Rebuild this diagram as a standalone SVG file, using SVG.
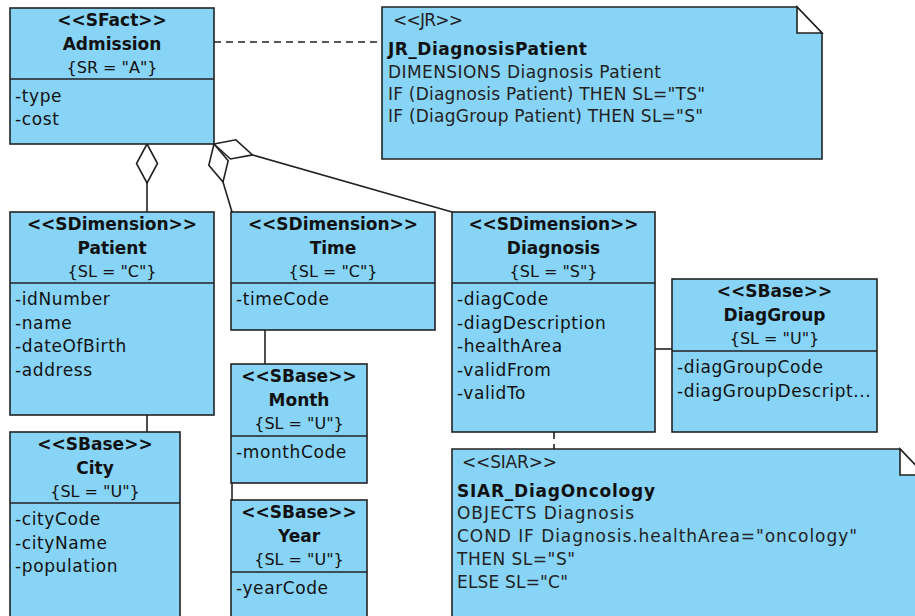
<svg xmlns="http://www.w3.org/2000/svg" width="915" height="616" viewBox="0 0 915 616">
<style>
.box{fill:#88d4f6;stroke:#222;stroke-width:1.6}
.div{stroke:#222;stroke-width:1.6}
.fold{fill:#fff;stroke:#222;stroke-width:1.6}
.st{font-family:"DejaVu Sans",sans-serif;font-size:17px;font-weight:bold;fill:#111;text-anchor:middle}
.nm{font-family:"DejaVu Sans",sans-serif;font-size:17px;font-weight:bold;fill:#111;text-anchor:middle}
.cn{font-family:"DejaVu Sans",sans-serif;font-size:16px;fill:#111;text-anchor:middle}
.at{font-family:"DejaVu Sans",sans-serif;font-size:17px;letter-spacing:0.6px;fill:#111}
.nt{font-family:"DejaVu Sans",sans-serif;font-size:17px;fill:#222}
.nb{font-family:"DejaVu Sans",sans-serif;font-size:17px;font-weight:bold;fill:#111}
.ln{fill:none;stroke:#222;stroke-width:1.6}
.dash{fill:none;stroke:#222;stroke-width:1.6;stroke-dasharray:7,5}
.dia{fill:#fff;stroke:#222;stroke-width:1.6}
</style>
<g id="connectors">
<line class="dash" x1="214" y1="42" x2="382" y2="42"/>
<line class="ln" x1="147" y1="183" x2="147" y2="212"/>
<polygon class="dia" points="147,144 157.5,163.5 147,183 136.5,163.5"/>
<line class="ln" x1="223" y1="182" x2="232" y2="212"/>
<polygon class="dia" points="214,144 228.2,160.7 223,182 208.8,165.3"/>
<line class="ln" x1="252.5" y1="154.9" x2="452" y2="212"/>
<polygon class="dia" points="214,144 235.9,139.8 252.5,154.9 230.5,159"/>
<line class="ln" x1="265" y1="330" x2="265" y2="364"/>
<line class="ln" x1="232" y1="483" x2="232" y2="500"/>
<line class="ln" x1="147" y1="415" x2="147" y2="432"/>
<line class="ln" x1="655" y1="349" x2="672" y2="349"/>
<line class="dash" x1="554" y1="432" x2="554" y2="449"/>
</g>
<g id="Admission">
<rect class="box" x="10" y="8" width="204" height="136"/>
<line class="div" x1="10" y1="79" x2="214" y2="79"/>
<text class="st" x="112" y="26">&lt;&lt;SFact&gt;&gt;</text>
<text class="nm" x="112" y="50">Admission</text>
<text class="cn" x="112" y="73">{SR = "A"}</text>
<text class="at" x="15" y="102">-type</text>
<text class="at" x="15" y="125">-cost</text>
</g>
<g id="JR_DiagnosisPatient">
<polygon class="box" points="382,7 797,7 822,33 822,159 382,159"/>
<polygon class="fold" points="797,7 797,33 822,33"/>
<text class="nt" x="393" y="26" textLength="70" lengthAdjust="spacing">&lt;&lt;JR&gt;&gt;</text>
<text class="nb" x="388" y="55" textLength="199" lengthAdjust="spacing">JR_DiagnosisPatient</text>
<text class="nt" x="388" y="78" textLength="273" lengthAdjust="spacing">DIMENSIONS Diagnosis Patient</text>
<text class="nt" x="388" y="100" textLength="317" lengthAdjust="spacing">IF (Diagnosis Patient) THEN SL="TS"</text>
<text class="nt" x="388" y="122" textLength="315" lengthAdjust="spacing">IF (DiagGroup Patient) THEN SL="S"</text>
</g>
<g id="Patient">
<rect class="box" x="10" y="212" width="204" height="203"/>
<line class="div" x1="10" y1="283" x2="214" y2="283"/>
<text class="st" x="112" y="230">&lt;&lt;SDimension&gt;&gt;</text>
<text class="nm" x="112" y="254">Patient</text>
<text class="cn" x="112" y="277">{SL = "C"}</text>
<text class="at" x="15" y="305">-idNumber</text>
<text class="at" x="15" y="328.5">-name</text>
<text class="at" x="15" y="352">-dateOfBirth</text>
<text class="at" x="15" y="375.5">-address</text>
</g>
<g id="Time">
<rect class="box" x="231" y="212" width="204" height="118"/>
<line class="div" x1="231" y1="283" x2="435" y2="283"/>
<text class="st" x="333" y="230">&lt;&lt;SDimension&gt;&gt;</text>
<text class="nm" x="333" y="254">Time</text>
<text class="cn" x="333" y="277">{SL = "C"}</text>
<text class="at" x="236" y="305">-timeCode</text>
</g>
<g id="Diagnosis">
<rect class="box" x="452" y="212" width="203" height="220"/>
<line class="div" x1="452" y1="283" x2="655" y2="283"/>
<text class="st" x="553.5" y="230">&lt;&lt;SDimension&gt;&gt;</text>
<text class="nm" x="553.5" y="254">Diagnosis</text>
<text class="cn" x="553.5" y="277">{SL = "S"}</text>
<text class="at" x="457" y="305">-diagCode</text>
<text class="at" x="457" y="328.5">-diagDescription</text>
<text class="at" x="457" y="352">-healthArea</text>
<text class="at" x="457" y="375.5">-validFrom</text>
<text class="at" x="457" y="399">-validTo</text>
</g>
<g id="DiagGroup">
<rect class="box" x="672" y="279" width="205" height="153"/>
<line class="div" x1="672" y1="351" x2="877" y2="351"/>
<text class="st" x="774.5" y="297">&lt;&lt;SBase&gt;&gt;</text>
<text class="nm" x="774.5" y="321">DiagGroup</text>
<text class="cn" x="774.5" y="344">{SL = "U"}</text>
<text class="at" x="677" y="373">-diagGroupCode</text>
<text class="at" x="677" y="396.5">-diagGroupDescript...</text>
</g>
<g id="Month">
<rect class="box" x="231" y="364" width="136" height="119"/>
<line class="div" x1="231" y1="436" x2="367" y2="436"/>
<text class="st" x="299" y="382">&lt;&lt;SBase&gt;&gt;</text>
<text class="nm" x="299" y="406">Month</text>
<text class="cn" x="299" y="429">{SL = "U"}</text>
<text class="at" x="236" y="458">-monthCode</text>
</g>
<g id="Year">
<rect class="box" x="231" y="500" width="136" height="130"/>
<line class="div" x1="231" y1="572" x2="367" y2="572"/>
<text class="st" x="299" y="518">&lt;&lt;SBase&gt;&gt;</text>
<text class="nm" x="299" y="542">Year</text>
<text class="cn" x="299" y="565">{SL = "U"}</text>
<text class="at" x="236" y="594">-yearCode</text>
</g>
<g id="City">
<rect class="box" x="10" y="432" width="170" height="200"/>
<line class="div" x1="10" y1="503" x2="180" y2="503"/>
<text class="st" x="95" y="450">&lt;&lt;SBase&gt;&gt;</text>
<text class="nm" x="95" y="474">City</text>
<text class="cn" x="95" y="497">{SL = "U"}</text>
<text class="at" x="15" y="525">-cityCode</text>
<text class="at" x="15" y="548.5">-cityName</text>
<text class="at" x="15" y="572">-population</text>
</g>
<g id="SIAR_DiagOncology">
<polygon class="box" points="452,449 900,449 925,475 925,630 452,630"/>
<polygon class="fold" points="900,449 900,475 925,475"/>
<text class="nt" x="462" y="468" textLength="95" lengthAdjust="spacing">&lt;&lt;SIAR&gt;&gt;</text>
<text class="nb" x="457" y="497" textLength="198" lengthAdjust="spacing">SIAR_DiagOncology</text>
<text class="nt" x="457" y="519" textLength="177" lengthAdjust="spacing">OBJECTS Diagnosis</text>
<text class="nt" x="457" y="542" textLength="400" lengthAdjust="spacing">COND IF Diagnosis.healthArea="oncology"</text>
<text class="nt" x="457" y="565" textLength="118" lengthAdjust="spacing">THEN SL="S"</text>
<text class="nt" x="457" y="588" textLength="111" lengthAdjust="spacing">ELSE SL="C"</text>
</g>
</svg>
